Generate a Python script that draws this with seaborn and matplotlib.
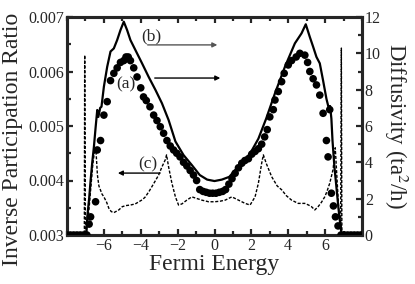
import numpy as np
import matplotlib
matplotlib.use("Agg")
import matplotlib.pyplot as plt
from matplotlib.ticker import MultipleLocator, FormatStrFormatter
import seaborn as sns


# (b) diffusivity, solid line (right axis)
sol_E = [-8.0, -6.95, -6.9, -6.8, -6.72, -6.63, -6.54, -6.45, -6.36, -6.3, -6.2, -6.13,
         -6.0, -5.82, -5.64, -5.46, -5.28, -5.1, -4.92, -4.74, -4.56, -4.29, -3.93, -3.57,
         -3.2, -2.85, -2.49, -2.12, -1.68, -1.23, -0.8, -0.4, 0.0, 0.4, 0.8, 1.23, 1.66,
         2.05, 2.38, 2.8, 3.28, 3.82, 4.36, 4.72, 4.95, 5.17, 5.35, 5.53, 5.71, 5.89,
         6.07, 6.2, 6.27, 6.34, 6.4, 6.5, 6.61, 6.72, 6.82, 6.9, 8.0]
sol_D = [0.0, 0.0, 1.0, 2.0, 3.0, 4.0, 4.86, 5.9, 6.88, 6.5, 7.0, 7.06,
         8.16, 9.26, 10.1, 10.27, 10.73, 11.28, 11.74, 11.28, 10.73, 10.18, 9.45, 8.7,
         7.98, 7.25, 6.33, 5.15, 4.4, 3.85, 3.3, 3.05, 2.97, 3.05, 3.2, 3.7, 4.1,
         4.7, 5.3, 6.4, 7.8, 9.26, 10.55, 11.1, 11.6, 10.9, 10.36, 9.8, 9.45, 8.5,
         7.5, 6.97, 7.1, 6.4, 5.2, 3.8, 2.66, 1.5, 0.6, 0.0, 0.0]

# (a) diffusivity, filled circles (right axis)
dot_E = [-8.0, -7.82, -7.64, -7.46, -7.28, -7.1, -6.92, -6.8, -6.72, -6.45, -6.36, -6.18,
         -6.0, -5.82, -5.64, -5.46, -5.28, -5.1, -4.92, -4.8, -4.68, -4.56, -4.38, -4.2,
         -4.0, -3.85, -3.7, -3.5, -3.3, -3.12, -2.94, -2.76, -2.58, -2.4, -2.22, -2.05,
         -1.87, -1.68, -1.5, -1.32, -1.14, -0.97, -0.8, -0.62, -0.45, -0.27, -0.1, 0.08,
         0.26, 0.44, 0.6, 0.78, 0.95, 1.12, 1.3, 1.48, 1.65, 1.84, 2.02, 2.2, 2.38, 2.56,
         2.72, 2.86, 3.0, 3.19, 3.28, 3.46, 3.64, 3.78, 4.0, 4.18, 4.43, 4.63, 4.9, 5.05,
         5.17, 5.35, 5.53, 5.71, 5.89, 6.07, 6.16, 6.25, 6.34, 6.45, 6.56, 6.7, 6.86,
         7.04, 7.22, 7.4, 7.58, 7.76, 7.94]
dot_D = [0.0, 0.0, 0.0, 0.0, 0.0, 0.0, 0.0, 0.6, 1.0, 1.83, 4.68, 5.2,
         6.6, 7.34, 8.5, 8.9, 9.2, 9.5, 9.6, 9.8, 9.8, 9.6, 9.2, 8.7,
         8.1, 7.6, 7.4, 7.06, 6.6, 6.3, 5.96, 5.6, 5.2, 4.9, 4.68, 4.5,
         4.3, 4.0, 3.8, 3.55, 3.3, 3.0, 2.5, 2.4, 2.35, 2.3, 2.3, 2.3,
         2.35, 2.4, 2.5, 2.8, 3.1, 3.4, 3.7, 3.95, 4.1, 4.2, 4.45, 4.6, 4.75, 5.0,
         5.4, 5.8, 6.5, 6.9, 7.43, 7.9, 8.44, 8.9, 9.36, 9.6, 9.8, 10.0, 9.9, 9.5,
         9.0, 8.6, 8.26, 7.7, 6.7, 5.2, 4.3, 6.9, 2.3, 1.6, 1.0, 0.5, 0.0,
         0.0, 0.0, 0.0, 0.0, 0.0, 0.0]

# (c) inverse participation ratio, dashed line (left axis)
ipr_E = [-8.0, -7.06, -7.04, -7.0, -6.9, -6.8, -6.7, -6.6, -6.5, -6.42, -6.35, -6.27,
         -6.1, -6.0, -5.85, -5.73, -5.6, -5.46, -5.3, -5.19, -5.0, -4.8, -4.56, -4.3,
         -4.1, -3.9, -3.75, -3.55, -3.39, -3.2, -3.03, -2.85, -2.67, -2.6, -2.49, -2.31,
         -2.12, -1.95, -1.77, -1.5, -1.23, -0.96, -0.69, -0.32, 0.0, 0.3, 0.58, 0.94,
         1.3, 1.66, 1.93, 2.2, 2.38, 2.56, 2.65, 2.8, 3.1, 3.4, 3.64, 3.9, 4.18, 4.54,
         4.9, 5.1, 5.26, 5.44, 5.62, 5.8, 5.98, 6.1, 6.25, 6.43, 6.55, 6.65, 6.75, 6.84,
         6.88, 6.91, 8.0]
ipr = [0.003, 0.003, 0.0063, 0.00305, 0.0032, 0.0035, 0.0039, 0.0043, 0.00455, 0.0045, 0.0041, 0.0039,
       0.00375, 0.0037, 0.0036, 0.00349, 0.00343, 0.00341, 0.00344, 0.00346, 0.00352, 0.00354, 0.00355, 0.00357,
       0.00361, 0.00365, 0.0037, 0.0038, 0.00389, 0.004, 0.0041, 0.00425, 0.00438, 0.00447, 0.00425, 0.00395,
       0.0037, 0.00355, 0.00357, 0.00364, 0.0037, 0.00367, 0.00364, 0.00361, 0.00361, 0.00362, 0.00364, 0.0037,
       0.00364, 0.00358, 0.00355, 0.0037, 0.00395, 0.00432, 0.00447, 0.00432, 0.00407, 0.0039, 0.00383, 0.00372, 0.00364, 0.00358,
       0.00358, 0.00355, 0.00352, 0.00346, 0.00352, 0.0036, 0.0037, 0.0038, 0.00395, 0.0042, 0.0046, 0.0040, 0.0034, 0.0031,
       0.00643, 0.003, 0.003]

sns.set_style("ticks")
plt.rcParams['font.family'] = ['Liberation Serif', 'DejaVu Serif']
plt.rcParams['mathtext.fontset'] = 'stix'

fig = plt.figure(figsize=(4.15, 2.84), dpi=100)
ax = fig.add_axes([67/415, 1 - 235/284, 295/415, 218/284])
ax2 = ax.twinx()

sns.lineplot(x=ipr_E, y=ipr, ax=ax, color='black', lw=1.0, estimator=None, sort=False,
             linestyle=(0, (2.2, 1.2)))
sns.lineplot(x=sol_E, y=sol_D, ax=ax2, color='black', lw=1.6, estimator=None, sort=False)
sns.scatterplot(x=dot_E, y=dot_D, ax=ax2, color='black', s=30, edgecolor='none', zorder=3)

ax.set_xlim(-8, 8)
ax.set_ylim(0.003, 0.007)
ax2.set_ylim(0, 12)

ax.xaxis.set_minor_locator(MultipleLocator(1))
ax.set_xticks([-6, -4, -2, 0, 2, 4, 6])
ax.yaxis.set_major_locator(MultipleLocator(0.001))
ax.yaxis.set_minor_locator(MultipleLocator(0.0005))
ax.yaxis.set_major_formatter(FormatStrFormatter('%.3f'))
ax2.yaxis.set_major_locator(MultipleLocator(2))
ax2.yaxis.set_minor_locator(MultipleLocator(1))

for a in (ax, ax2):
    for sp in a.spines.values():
        sp.set_linewidth(2.2)
        sp.set_visible(True)
    a.tick_params(which='both', direction='in', width=1.6, labelsize=11.5, pad=2)
    a.tick_params(which='major', length=4.5)
    a.tick_params(which='minor', length=3)
ax.tick_params(which='both', top=True, right=False)
ax2.tick_params(which='both', left=False, right=True, top=False, bottom=False)

ax.set_xlabel('Fermi Energy', fontsize=17, labelpad=0)
ax.set_ylabel('Inverse Participation Ratio', fontsize=17)
ax.yaxis.set_label_coords(-0.15, 0.44)
ax2.set_ylabel('Diffusivity (ta$^2$/h)', fontsize=16.5, rotation=270, va='bottom', labelpad=1)

# curve labels with arrows
ax.text(0.285, 0.913, '(b)', transform=ax.transAxes, fontsize=12.5, ha='center', va='center')
ax.annotate('', xy=(0.519, 0.872), xytext=(0.264, 0.872), xycoords='axes fraction',
            arrowprops=dict(arrowstyle='-|>', color='#555555', lw=1.0, mutation_scale=7))
ax.text(0.2, 0.693, '(a)', transform=ax.transAxes, fontsize=12.5, ha='center', va='center')
ax.annotate('', xy=(0.529, 0.72), xytext=(0.288, 0.72), xycoords='axes fraction',
            arrowprops=dict(arrowstyle='-|>', color='black', lw=1.0, mutation_scale=7))
ax.text(0.275, 0.326, '(c)', transform=ax.transAxes, fontsize=12.5, ha='center', va='center')
ax.annotate('', xy=(0.163, 0.284), xytext=(0.325, 0.284), xycoords='axes fraction',
            arrowprops=dict(arrowstyle='-|>', color='black', lw=1.0, mutation_scale=7))

plt.savefig('out.png', dpi=100)
